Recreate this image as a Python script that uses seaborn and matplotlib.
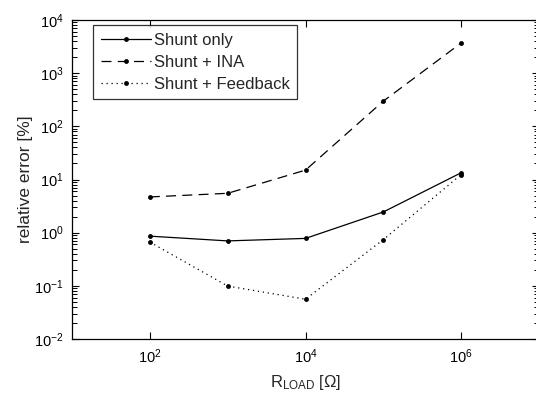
import matplotlib
matplotlib.use("Agg")
import matplotlib.pyplot as plt
import matplotlib.ticker as mticker
import seaborn as sns
import pandas as pd
import numpy as np

r_load = [1e2, 1e3, 1e4, 1e5, 1e6]
shunt_only = [0.86, 0.70, 0.78, 2.45, 13.4]
shunt_ina = [4.7, 5.5, 15.0, 298.0, 3700.0]
shunt_feedback = [0.665, 0.099, 0.056, 0.74, 12.4]
series_names = ["Shunt only", "Shunt + INA", "Shunt + Feedback"]

sns.set_theme(style="white")
plt.rcParams['font.family'] = ['Liberation Sans', 'DejaVu Sans']
plt.rcParams['mathtext.default'] = 'regular'

df = pd.DataFrame({
    "R": r_load * 3,
    "err": shunt_only + shunt_ina + shunt_feedback,
    "series": [series_names[0]] * 5 + [series_names[1]] * 5 + [series_names[2]] * 5,
})

fig = plt.figure(figsize=(5.36, 4.03), dpi=100)
ax = fig.add_axes([72/536, 64/403, 467/536, 319/403])

styles = {
    series_names[0]: dict(linestyle="-"),
    series_names[1]: dict(linestyle=(0, (8, 5))),
    series_names[2]: dict(linestyle=(0, (1, 3))),
}
for name in series_names:
    sub = df[df["series"] == name]
    sns.lineplot(data=sub, x="R", y="err", ax=ax, color="black", linewidth=0.9,
                 marker="o", markersize=3.5, markeredgewidth=0, label=name,
                 **styles[name])

ax.set_xscale("log")
ax.set_yscale("log")
ax.set_xlim(1e1, 1e7)
ax.set_ylim(1e-2, 1e4)
ax.xaxis.set_major_locator(mticker.FixedLocator([1e2, 1e4, 1e6]))
ax.xaxis.set_minor_locator(mticker.NullLocator())
ax.yaxis.set_major_locator(mticker.LogLocator(base=10, numticks=100))
ax.yaxis.set_minor_locator(mticker.LogLocator(base=10, subs=np.arange(2, 10), numticks=100))
ax.yaxis.set_minor_formatter(mticker.NullFormatter())

ax.tick_params(which="both", direction="in", top=True, right=True, left=True,
               bottom=True, colors="black", labelsize=10.5)
ax.tick_params(which="major", length=5, width=0.8, pad=6)
ax.tick_params(which="minor", length=3.5, width=0.7)
for sp in ax.spines.values():
    sp.set_color("black")
    sp.set_linewidth(0.9)

ax.set_xlabel(r"R$_{LOAD}$ [$\Omega$]", fontsize=12, labelpad=5)
ax.set_ylabel("relative error [%]", fontsize=12.5, labelpad=1)

leg = ax.legend(loc="upper left", bbox_to_anchor=(0.045, 0.984), fontsize=12,
                frameon=True, fancybox=False, edgecolor="black", handlelength=3.0,
                borderpad=0.45, labelspacing=0.42, handletextpad=0.2,
                borderaxespad=0)
leg.get_frame().set_linewidth(0.9)

fig.savefig("out.png", dpi=100)
